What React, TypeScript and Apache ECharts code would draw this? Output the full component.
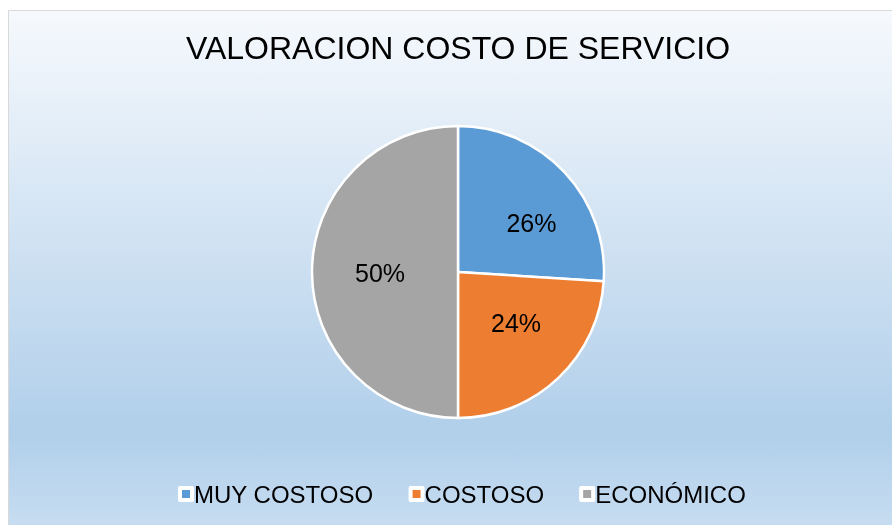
import React, { useEffect, useRef } from "react";
import * as echarts from "echarts";

const titleText = "VALORACION COSTO DE SERVICIO";
const categories = ["MUY COSTOSO", "COSTOSO", "ECONÓMICO"];
const values = [26, 24, 50];
const colors = ["#5b9bd5", "#ed7d31", "#a5a5a5"];
const labelOffsets = [
  [18, 3],
  [6, -4],
  [-2, 1],
];

const FONT = "'Liberation Sans', Arial, Helvetica, sans-serif";

export default function App() {
  const ref = useRef<HTMLDivElement>(null);
  useEffect(() => {
    if (!ref.current) return;
    const chart = echarts.init(ref.current, undefined, { renderer: "svg" });
    chart.setOption({
      animation: false,
      graphic: {
        elements: [
          {
            type: "rect",
            z: -100,
            silent: true,
            shape: { x: 0.5, y: 0.5, width: 899, height: 519 },
            style: {
              fill: new echarts.graphic.LinearGradient(0, 0, 0, 1, [
                { offset: 0, color: "#f6f9fd" },
                { offset: 0.81, color: "#b1cfea" },
                { offset: 1, color: "#c7ddf1" },
              ]),
              stroke: "#d9d9d9",
              lineWidth: 1,
            },
          },
        ],
      },
      title: {
        text: titleText,
        left: "center",
        top: 22,
        padding: 0,
        textStyle: {
          fontFamily: FONT,
          fontSize: 32,
          fontWeight: "normal",
          color: "#000",
        },
      },
      legend: {
        data: categories,
        left: 170,
        top: 472,
        padding: 0,
        itemGap: 35,
        itemWidth: 12,
        itemHeight: 12,
        icon: "rect",
        itemStyle: { borderColor: "#ffffff", borderWidth: 4 },
        textStyle: {
          fontFamily: FONT,
          fontSize: 24,
          color: "#000",
          padding: [0, 0, 0, -3],
        },
      },
      series: [
        {
          type: "pie",
          center: [450, 262],
          radius: 146,
          startAngle: 90,
          clockwise: true,
          color: colors,
          itemStyle: { borderColor: "#ffffff", borderWidth: 2.5 },
          label: {
            show: true,
            position: "inside",
            formatter: (p: any) => `${p.value}%`,
            fontFamily: FONT,
            fontSize: 25,
            color: "#000",
          },
          labelLine: { show: false },
          labelLayout: (p: any) => ({
            dx: labelOffsets[p.dataIndex][0],
            dy: labelOffsets[p.dataIndex][1],
          }),
          data: categories.map((name, i) => ({ name, value: values[i] })),
        },
      ],
    });
    return () => chart.dispose();
  }, []);
  return (
    <div
      style={{
        position: "fixed",
        left: 8,
        top: 10,
        width: 884,
        height: 515,
        overflow: "hidden",
      }}
    >
      <div ref={ref} style={{ width: 900, height: 520 }} />
    </div>
  );
}
